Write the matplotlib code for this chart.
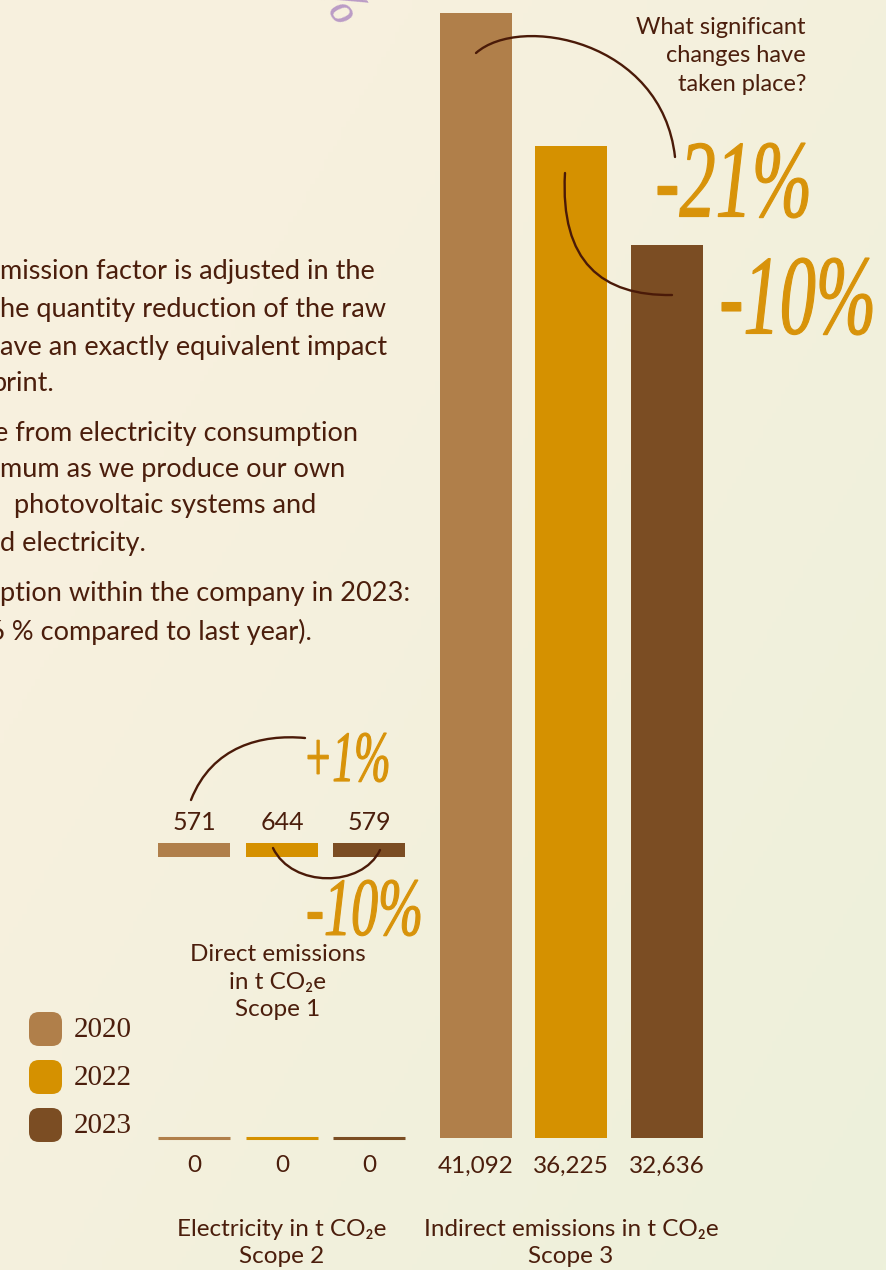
import matplotlib

matplotlib.use('Agg')

import matplotlib.pyplot as plt
import numpy as np
from matplotlib.font_manager import FontProperties
from matplotlib.patches import FancyBboxPatch, PathPatch
from matplotlib.path import Path
from matplotlib.textpath import TextPath
from matplotlib.transforms import Affine2D


W, H = 887, 1270
DPI = 100

YEARS = ['2020', '2022', '2023']
SCOPE1 = [571, 644, 579]
SCOPE2 = [0, 0, 0]
SCOPE3 = [41092, 36225, 32636]
SCOPE1_CHANGES = ['+1%', '-10%']
SCOPE3_CHANGES = ['-21%', '-10%']

SCOPE1_TITLE = 'Direct emissions\nin t CO\u2082e\nScope 1'
SCOPE2_TITLE = 'Electricity in t CO\u2082e\nScope 2'
SCOPE3_TITLE = 'Indirect emissions in t CO\u2082e\nScope 3'
QUESTION = 'What significant\nchanges have\ntaken place?'

BODY_LINES = [
    (0, 'mission factor is adjusted in the'),
    (0, 'he quantity reduction of the raw'),
    (0, 'ave an exactly equivalent impact'),
    (-9, 'print.'),
    (-6, 'e from electricity consumption'),
    (0, 'mum as we produce our own'),
    (14, 'photovoltaic systems and'),
    (0, 'd electricity.'),
    (0, 'ption within the company in 2023:'),
    (-11, '6 % compared to last year).'),
]
BODY_Y = [272, 310, 347, 384, 433, 469, 506, 544, 593, 632]

COLORS = ['#b07f4a', '#d59100', '#7b4d23']
TEXT_COLOR = '#4b1e0c'
ACCENT = '#d8930a'
LINE_COLOR = '#4a1a08'

FONT = ['Lato', 'DejaVu Sans']
NUM_FONT = ['Liberation Serif', 'DejaVu Serif']
PCT_FONT = FontProperties(family='Liberation Serif', style='italic')

BAR_W = 72
BASE_Y = 1138
TOP_Y = 13
S1_X = [194, 282, 369]
S2_X = [194, 282, 369]
S3_X = [476, 571, 667]


def brush_label(ax, s, box, color):
    # stretch the glyph outlines into a tall hand-lettered box
    x0, y0, x1, y1 = box
    tp = TextPath((0, 0), s, size=100, prop=PCT_FONT)
    bb = tp.get_extents()
    tr = (Affine2D().translate(-bb.x0, -bb.y1)
          .scale((x1 - x0) / bb.width, -(y1 - y0) / bb.height)
          .translate(x0, y0))
    ax.add_patch(PathPatch(tr.transform_path(tp), fc=color, ec=color,
                           lw=0.8, zorder=5))


def curve(ax, pts):
    codes = [Path.MOVETO, Path.CURVE4, Path.CURVE4, Path.CURVE4]
    ax.add_patch(PathPatch(Path(pts, codes), fc='none', ec=LINE_COLOR,
                           lw=1.7, capstyle='round', zorder=6))


fig = plt.figure(figsize=(W / DPI, H / DPI), dpi=DPI)

# paper background: warm cream, greener towards the top right
bg = fig.add_axes([0, 0, 1, 1], zorder=0)
gx, gy = np.meshgrid(np.linspace(0, 1, 200), np.linspace(0, 1, 200))
t = np.clip(0.75 * gx + 0.6 * (1 - gy) - 0.35, 0, 1)
warm = np.array([247, 240, 222]) / 255
green = np.array([237, 241, 219]) / 255
img = warm[None, None, :] * (1 - t[..., None]) + green[None, None, :] * t[..., None]
bg.imshow(img, extent=[0, 1, 0, 1], origin='lower', aspect='auto')
bg.set_axis_off()

# scope 2 and scope 3 bars share one value axis
ax = fig.add_axes([0, (H - BASE_Y) / H, 1, BASE_Y / H], zorder=1)
ax.set_xlim(0, W)
ax.set_ylim(0, max(SCOPE3) * BASE_Y / (BASE_Y - TOP_Y))
ax.patch.set_alpha(0)
ax.set_axis_off()
for i in range(3):
    ax.bar(S2_X[i], SCOPE2[i], width=BAR_W, color=COLORS[i], edgecolor=COLORS[i],
           linewidth=2.2, clip_on=False)
    ax.bar(S3_X[i], SCOPE3[i], width=BAR_W, color=COLORS[i], linewidth=0)

# scope 1 values are shown as equal chips with the numbers above
ax1 = fig.add_axes([0, (H - 857) / H, 1, 14 / H], zorder=1)
ax1.set_xlim(0, W)
ax1.set_ylim(0, 1)
ax1.patch.set_alpha(0)
ax1.set_axis_off()
ax1.bar(S1_X, [1] * len(SCOPE1), width=BAR_W, color=COLORS, linewidth=0)

# overlay in pixel units for labels, arcs and legend
cv = fig.add_axes([0, 0, 1, 1], zorder=2)
cv.set_xlim(0, W)
cv.set_ylim(H, 0)
cv.patch.set_alpha(0)
cv.set_axis_off()

for (dx, line), y in zip(BODY_LINES, BODY_Y):
    cv.text(dx, y, line, family=FONT, fontsize=19.5, color=TEXT_COLOR,
            ha='left', va='center')

cv.text(806, 56, QUESTION, family=FONT, fontsize=17, color=TEXT_COLOR,
        ha='right', va='center', linespacing=1.45)

for i in range(3):
    cv.text(S1_X[i], 822, f'{SCOPE1[i]:,}', family=FONT, fontsize=18,
            color=TEXT_COLOR, ha='center', va='center')
    cv.text(S2_X[i], 1166, f'{SCOPE2[i]:,}', family=FONT, fontsize=17.5,
            color=TEXT_COLOR, ha='center', va='center')
    cv.text(S3_X[i], 1166, f'{SCOPE3[i]:,}', family=FONT, fontsize=17.5,
            color=TEXT_COLOR, ha='center', va='center')

cv.text(278, 982, SCOPE1_TITLE, family=FONT, fontsize=17.5, color=TEXT_COLOR,
        ha='center', va='center', linespacing=1.4)
cv.text(282, 1243, SCOPE2_TITLE, family=FONT, fontsize=17.5, color=TEXT_COLOR,
        ha='center', va='center', linespacing=1.4)
cv.text(571, 1243, SCOPE3_TITLE, family=FONT, fontsize=17.5, color=TEXT_COLOR,
        ha='center', va='center', linespacing=1.4)

# legend chips
legend_y = [1029, 1077, 1125]
for c, yr, y in zip(COLORS, YEARS, legend_y):
    cv.add_patch(FancyBboxPatch((29, y - 17), 33, 34,
                                boxstyle='round,pad=0,rounding_size=10',
                                fc=c, ec='none'))
    cv.text(74, y + 1, yr, family=NUM_FONT, fontsize=21, color=TEXT_COLOR,
            ha='left', va='center')

# change arcs
curve(cv, [(476, 53), (520, 14), (662, 40), (675, 157)])
curve(cv, [(565, 173), (560, 262), (602, 296), (672, 295)])
curve(cv, [(191, 800), (212, 746), (262, 734), (305, 738)])
curve(cv, [(273, 848), (292, 888), (362, 888), (380, 850)])

brush_label(cv, SCOPE3_CHANGES[0], (658, 143, 808, 218), ACCENT)
brush_label(cv, SCOPE3_CHANGES[1], (722, 258, 872, 335), ACCENT)
brush_label(cv, SCOPE1_CHANGES[0], (308, 733, 388, 782), ACCENT)
brush_label(cv, SCOPE1_CHANGES[1], (308, 880, 420, 936), ACCENT)

cv.text(337, 4, '%', family=NUM_FONT, fontsize=40, style='italic',
        color='#bb9cc6', rotation=-55, ha='center', va='center')

fig.savefig('out.png', dpi=DPI)
plt.close(fig)
